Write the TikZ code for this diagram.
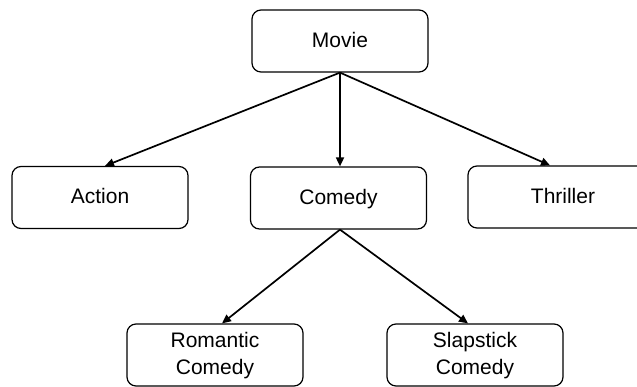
\documentclass[tikz,border=0pt]{standalone}
\usepackage{fontspec}
\setmainfont{Liberation Sans}
\usetikzlibrary{arrows.meta}

\tikzset{
  catbox/.style={draw, line width=1.2pt, rounded corners=9pt, minimum width=176pt, minimum height=62pt, align=center, text depth=0.25em, font=\fontsize{21}{27}\selectfont},
  catarrow/.style={line width=1.7pt, -{Triangle[length=9pt,width=8pt]}}
}

\begin{document}
\begin{tikzpicture}[x=1pt,y=-1pt]

\path[use as bounding box, clip] (0,0) rectangle (637,386);

%%%%% Top level
\node[catbox] (movie) at (340,41) {Movie};

%%%%% Second level
\node[catbox] (action) at (100,197.5) {Action}; \node[catbox] (comedy) at (338.5,198) {Comedy}; \node[catbox, minimum width=190pt] (thriller) at (563,197) {Thriller};

%%%%% Third level
\node[catbox] (romantic) at (215,355) {Romantic\\Comedy}; \node[catbox] (slapstick) at (475,355) {Slapstick\\Comedy};

%%%%% Arrows
\draw[catarrow] (movie.south) -- ([xshift=5pt]action.north); \draw[catarrow] (movie.south) -- ([xshift=1.5pt]comedy.north); \draw[catarrow] (movie.south) -- ([xshift=-13pt]thriller.north);

\draw[catarrow] ([xshift=1.5pt]comedy.south) -- ([xshift=7pt]romantic.north); \draw[catarrow] ([xshift=1.5pt]comedy.south) -- ([xshift=-7pt]slapstick.north);

\end{tikzpicture}
\end{document}
